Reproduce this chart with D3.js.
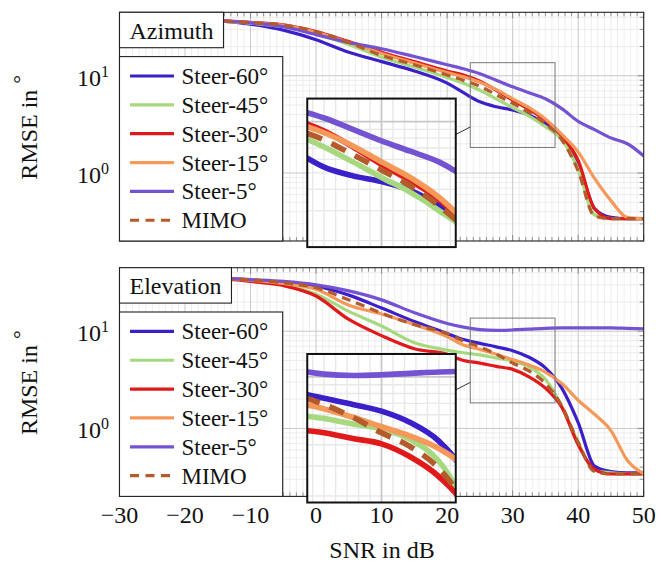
<!DOCTYPE html>
<html>
<head>
<meta charset="utf-8">
<script src="https://cdn.jsdelivr.net/npm/d3@7"></script>
<style>
  body { margin: 0; background: #fff; }
  svg text { font-family: "Liberation Serif", "DejaVu Serif", "Times New Roman", Times, serif; }
</style>
</head>
<body>
<svg id="chart" width="667" height="566"></svg>
<script>
// SNR samples shared by every curve (dB)
const snr = [-30, -25, -20, -15, -10, -5, 0, 5, 10, 15, 20, 22.5, 25, 27.5, 30, 32.5, 35, 37.5, 40, 42.5, 45, 47.5, 50]
const seriesNames = ['Steer-60°', 'Steer-45°', 'Steer-30°', 'Steer-15°', 'Steer-5°', 'MIMO']
const seriesColors = ['#3b1fc9', '#a6d97f', '#e0191b', '#f4995a', '#7453d2', '#b45a2b']

// azimuth RMSE (deg)
const azSteer60 = [40.5, 40, 39, 37, 34, 29.5, 23.5, 17.5, 14, 11.2, 8.4, 6.7, 5.4, 4.8, 4.45, 3.95, 3.2, 2.3, 1.25, 0.43, 0.35, 0.34, 0.34]
const azSteer45 = [40.5, 40, 39, 37, 34.8, 32, 27, 21, 15.5, 12.3, 9.6, 8.4, 7.1, 5.8, 4.7, 3.85, 3.0, 2.2, 1.1, 0.37, 0.34, 0.34, 0.34]
const azSteer30 = [40.5, 40, 39, 37, 35.5, 33.5, 28.5, 22.5, 17.5, 14, 11.2, 10.2, 8.8, 7.1, 5.6, 4.5, 3.5, 2.4, 1.35, 0.43, 0.34, 0.34, 0.34]
const azSteer15 = [40.5, 40, 39, 37, 35, 33, 28, 22, 17, 13.5, 10.8, 9.8, 8.6, 7.2, 5.8, 4.7, 3.6, 2.5, 1.65, 0.88, 0.52, 0.35, 0.34]
const azSteer5 = [40.5, 40, 39, 37, 35, 32, 26.5, 22, 19, 15.8, 13, 11.8, 10.5, 9.0, 7.7, 6.7, 5.8, 4.6, 3.4, 2.8, 2.3, 2.0, 1.5]
const azMimo = [40.5, 40, 39, 37, 35.2, 33.3, 28.5, 22, 16.2, 13, 10.2, 9.0, 7.8, 6.4, 5.2, 4.2, 3.2, 2.2, 1.05, 0.36, 0.34, 0.34, 0.34]

// elevation RMSE (deg)
const elSteer60 = [39, 38.5, 37.5, 35.5, 33.5, 31.5, 29, 23.5, 17.3, 12.6, 9.5, 8.2, 7.5, 6.9, 6.3, 5.4, 4.2, 2.6, 1.15, 0.41, 0.36, 0.35, 0.35]
const elSteer45 = [39, 38.5, 37.5, 35.5, 33, 30, 24, 16, 11.3, 7.6, 6.4, 6.0, 5.7, 5.3, 4.95, 4.3, 3.2, 1.7, 0.72, 0.37, 0.35, 0.34, 0.34]
const elSteer30 = [39, 38.5, 37.5, 35, 32.5, 29.5, 23, 13.2, 9.0, 6.6, 5.8, 5.0, 4.7, 4.35, 4.05, 3.4, 2.6, 1.65, 0.68, 0.38, 0.34, 0.34, 0.34]
const elSteer15 = [39, 38.5, 37.5, 35.5, 33.5, 31, 27, 18.5, 15, 11.7, 8.8, 7.2, 6.5, 5.8, 5.1, 4.5, 3.8, 2.9, 1.95, 1.4, 0.95, 0.47, 0.34]
const elSteer5 = [39, 38.5, 37.5, 35.5, 34, 32.5, 30, 26, 21, 15.5, 12.0, 11.0, 10.4, 10.2, 10.3, 10.5, 10.7, 10.8, 10.8, 10.8, 10.8, 10.7, 10.6]
const elMimo = [39, 38.5, 37.5, 35.5, 33.8, 31.5, 28, 21, 15.3, 11.7, 9.4, 7.9, 6.9, 5.8, 4.7, 3.9, 2.9, 1.7, 0.72, 0.36, 0.34, 0.34, 0.34]

const xTicks = [-30, -20, -10, 0, 10, 20, 30, 40, 50]
const yTicks = [1, 10]

const panels = [
  { title: 'Azimuth', top: 12.3, series: [azSteer60, azSteer45, azSteer30, azSteer15, azSteer5, azMimo] },
  { title: 'Elevation', top: 267.7, series: [elSteer60, elSteer45, elSteer30, elSteer15, elSteer5, elMimo] }
]

const serif = '"Liberation Serif", "DejaVu Serif", "Times New Roman", Times, serif'
const svg = d3.select('#chart').attr('font-family', serif)
const left = 119.5, right = 643.7, plotH = 228.7
const x = d3.scaleLinear().domain([-30, 50]).range([left, right])

const minorX = d3.range(-30, 51, 1).filter(v => v % 10 !== 0)
const minorY = []
;[0.1, 1, 10].forEach(dec => {
  for (let k = 2; k <= 9; k++) {
    const v = k * dec
    if (v >= 0.2 && v <= 45) minorY.push(v)
  }
})

const lineWidth = 3.2

function drawContent (g, y, rows) {
  const [yb, yt] = y.range()
  g.append('rect').attr('x', left).attr('y', yt).attr('width', right - left).attr('height', yb - yt).attr('fill', '#fff')
  g.append('g').selectAll('line').data(minorX).enter().append('line')
    .attr('x1', d => x(d)).attr('x2', d => x(d)).attr('y1', yb).attr('y2', yt)
    .attr('stroke', '#e8e8e8').attr('stroke-width', 0.8)
  g.append('g').selectAll('line').data(minorY).enter().append('line')
    .attr('x1', left).attr('x2', right).attr('y1', d => y(d)).attr('y2', d => y(d))
    .attr('stroke', '#e8e8e8').attr('stroke-width', 0.8)
  g.append('g').selectAll('line').data(xTicks).enter().append('line')
    .attr('x1', d => x(d)).attr('x2', d => x(d)).attr('y1', yb).attr('y2', yt)
    .attr('stroke', '#c8c8c8').attr('stroke-width', 1)
  g.append('g').selectAll('line').data(yTicks).enter().append('line')
    .attr('x1', left).attr('x2', right).attr('y1', d => y(d)).attr('y2', d => y(d))
    .attr('stroke', '#c8c8c8').attr('stroke-width', 1)

  const line = d3.line()
    .x((d, i) => x(snr[i]))
    .y(d => y(d))
    .curve(d3.curveMonotoneX)

  g.append('g').selectAll('path').data(rows).enter().append('path')
    .attr('d', d => line(d.values))
    .attr('fill', 'none')
    .attr('stroke', d => d.color)
    .attr('stroke-width', lineWidth)
    .attr('stroke-linejoin', 'round')
    .attr('stroke-dasharray', d => d.dashed ? '9 6' : null)
}

panels.forEach((p, pi) => {
  const top = p.top, bottom = top + plotH
  const y = d3.scaleLog().domain([0.2, 45]).range([bottom, top])
  const rows = seriesNames.map((name, i) => ({
    name: name, color: seriesColors[i], values: p.series[i], dashed: name === 'MIMO'
  }))

  const clipId = 'clip' + pi
  svg.append('clipPath').attr('id', clipId)
    .append('rect').attr('x', left).attr('y', top).attr('width', right - left).attr('height', plotH)
  const main = svg.append('g').attr('clip-path', 'url(#' + clipId + ')')
  drawContent(main, y, rows)

  // inward ticks on all four sides
  const tick = svg.append('g').attr('stroke', '#777').attr('stroke-width', 0.8)
  const ticksX = (vals, len) => {
    vals.forEach(v => {
      tick.append('line').attr('x1', x(v)).attr('x2', x(v)).attr('y1', bottom).attr('y2', bottom - len)
      tick.append('line').attr('x1', x(v)).attr('x2', x(v)).attr('y1', top).attr('y2', top + len)
    })
  }
  const ticksY = (vals, len) => {
    vals.forEach(v => {
      tick.append('line').attr('x1', left).attr('x2', left + len).attr('y1', y(v)).attr('y2', y(v))
      tick.append('line').attr('x1', right).attr('x2', right - len).attr('y1', y(v)).attr('y2', y(v))
    })
  }
  ticksX(minorX, 4)
  ticksX(xTicks, 6)
  ticksY(minorY, 4)
  ticksY(yTicks, 6)

  svg.append('rect').attr('x', left).attr('y', top).attr('width', right - left).attr('height', plotH)
    .attr('fill', 'none').attr('stroke', '#222').attr('stroke-width', 1.1)

  // y tick labels 10^0, 10^1
  yTicks.forEach(v => {
    const t = svg.append('text').attr('x', 109).attr('y', y(v) + 10)
      .attr('text-anchor', 'end').attr('font-size', 24).attr('fill', '#111')
    t.append('tspan').text('10')
    t.append('tspan').attr('dy', -9).attr('font-size', 16).text(Math.round(Math.log10(v)))
  })

  // y axis label
  const yl = svg.append('text')
    .attr('transform', 'translate(37,' + (top + 115) + ') rotate(-90)')
    .attr('text-anchor', 'middle').attr('font-size', 24).attr('fill', '#111')
  yl.append('tspan').text('RMSE in ')
  yl.append('tspan').attr('dy', -9).attr('font-size', 22).text('°')

  // title box
  const tg = svg.append('g')
  const tr = tg.append('rect').attr('x', left).attr('y', top).attr('height', 35.4)
    .attr('fill', '#fff').attr('stroke', '#222').attr('stroke-width', 1.1)
  const tt = tg.append('text').attr('x', left + 10).attr('y', top + 26.6)
    .attr('font-size', 24).attr('fill', '#111').text(p.title)
  tr.attr('width', tt.node().getComputedTextLength() + 20)

  // legend
  const lg = svg.append('g')
  lg.append('rect').attr('x', left).attr('y', top + 44.3).attr('width', 163.2).attr('height', plotH - 44.3)
    .attr('fill', '#fff').attr('stroke', '#222').attr('stroke-width', 1.1)
  const item = lg.selectAll('.item').data(rows).enter().append('g')
    .attr('transform', (d, i) => 'translate(0,' + (top + 63.7 + i * 28.85) + ')')
  item.append('line').attr('x1', 130).attr('x2', 174).attr('y1', 0).attr('y2', 0)
    .attr('stroke', d => d.color).attr('stroke-width', lineWidth)
    .attr('stroke-dasharray', d => d.dashed ? '9 6.5' : null)
  item.append('text').attr('x', 181.5).attr('y', 8).attr('font-size', 23).attr('fill', '#111')
    .text(d => d.name)

  // spy: source rectangle at (30 dB, 5 deg), magnified box
  const sx = x(30), sy = y(5), sh = 42.4
  const ih = 74.25, ix = 381.5, iy = top + 160.55
  const mag = ih / sh
  svg.append('rect').attr('x', sx - sh).attr('y', sy - sh).attr('width', 2 * sh).attr('height', 2 * sh)
    .attr('fill', 'none').attr('stroke', '#777').attr('stroke-width', 1)

  const dx = ix - sx, dy = iy - sy
  const ts = Math.min(sh / Math.abs(dx), sh / Math.abs(dy))
  const ti = Math.min(ih / Math.abs(dx), ih / Math.abs(dy))
  svg.append('line')
    .attr('x1', sx + ts * dx).attr('y1', sy + ts * dy)
    .attr('x2', ix - ti * dx).attr('y2', iy - ti * dy)
    .attr('stroke', '#333').attr('stroke-width', 1)

  const insetClip = 'inset' + pi
  svg.append('clipPath').attr('id', insetClip)
    .append('rect').attr('x', ix - ih).attr('y', iy - ih).attr('width', 2 * ih).attr('height', 2 * ih)
  const inset = svg.append('g').attr('clip-path', 'url(#' + insetClip + ')')
  inset.append('rect').attr('x', ix - ih).attr('y', iy - ih).attr('width', 2 * ih).attr('height', 2 * ih).attr('fill', '#fff')
  const zoomed = inset.append('g')
    .attr('transform', 'translate(' + ix + ',' + iy + ') scale(' + mag + ') translate(' + (-sx) + ',' + (-sy) + ')')
  drawContent(zoomed, y, rows)
  svg.append('rect').attr('x', ix - ih).attr('y', iy - ih).attr('width', 2 * ih).attr('height', 2 * ih)
    .attr('fill', 'none').attr('stroke', '#111').attr('stroke-width', 2)

  // x tick labels on the lower panel only
  if (pi === 1) {
    svg.append('g').selectAll('text').data(xTicks).enter().append('text')
      .attr('x', d => x(d)).attr('y', bottom + 27)
      .attr('text-anchor', 'middle').attr('font-size', 24).attr('fill', '#111')
      .text(d => d < 0 ? '\u2212' + Math.abs(d) : d)
    svg.append('text').attr('x', 382).attr('y', 558)
      .attr('text-anchor', 'middle').attr('font-size', 24).attr('fill', '#111')
      .text('SNR in dB')
  }
})
</script>
</body>
</html>
